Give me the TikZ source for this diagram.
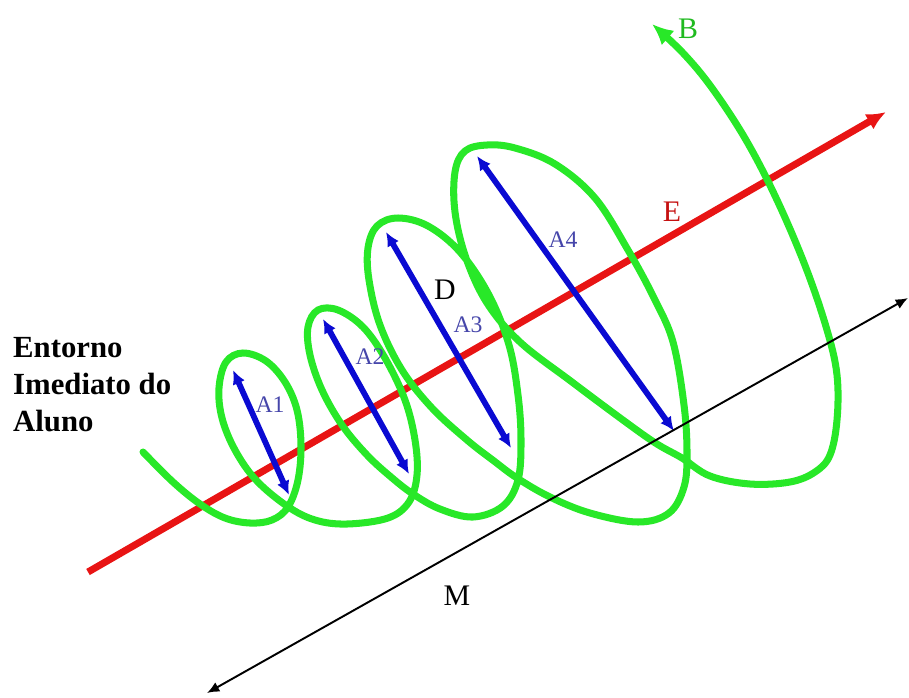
\documentclass[tikz,border=0pt]{standalone}
\usepackage{fontspec}
\setmainfont{Liberation Serif}
\usetikzlibrary{arrows.meta}
\definecolor{espiral}{RGB}{40,232,40}
\definecolor{eixo}{RGB}{232,20,20}
\definecolor{azul}{RGB}{10,10,210}
\definecolor{rotulo}{RGB}{70,70,170}

\begin{document}
\begin{tikzpicture}[x=0.02cm, y=-0.02cm,
    eixoE/.style={eixo, line width=4pt, -{Latex[length=11pt,width=10pt]}},
    eixoM/.style={black, line width=1.1pt, {Latex[length=7pt,width=6pt]}-{Latex[length=7pt,width=6pt]}},
    amplitude/.style={azul, line width=3.3pt, {Latex[length=8pt,width=7.5pt]}-{Latex[length=8pt,width=7.5pt]}},
    rotuloA/.style={rotulo, font=\fontsize{13.5}{15}\selectfont},
    rotuloG/.style={font=\fontsize{17}{20}\selectfont}]
    \useasboundingbox (0,0) rectangle (909,697);

    % Eixo E
    \coordinate (E0) at (88,572);
    \coordinate (E1) at (886,112);
    \draw[eixoE] (E0) -- (E1);

    % Espiral B
    \draw[espiral, line width=4pt, line cap=round, -{Latex[length=12pt,width=11pt]}]
        plot[smooth, tension=0.6] coordinates {
        (143,452) (173,482) (200,504) (225,518) (250,523) (272,520) (288,507)
        (298,480) (301,445) (297,410) (285,382) (266,361) (243,353) (226,362)
        (219,388) (222,418) (235,450) (256,480) (287,506) (315,520) (347,524)
        (388,518) (409,502) (417,475) (415,440) (405,400) (385,358) (363,327)
        (338,310) (318,310) (308,327) (310,355) (322,390) (342,425) (367,455)
        (391,477) (413,494) (440,509) (473,517) (503,506) (518,480) (521,440)
        (518,395) (509,345) (489,295) (460,252) (428,226) (398,218) (377,226)
        (368,248) (369,280) (380,325) (402,370) (432,408) (467,440) (494,461)
        (517,478) (550,497) (590,513) (638,522) (669,513) (684,487) (687,453)
        (684,405) (673,342) (654,298) (628,250) (595,198) (555,164) (515,148)
        (487,145) (465,151) (455,172) (455,212) (466,258) (487,303) (520,342)
        (572,382) (627,423) (657,444) (682,458) (710,476) (750,484) (790,482)
        (815,472) (830,455) (837,420) (837,375) (827,330) (806,268) (777,200)
        (746,140) (712,88) (683,53) (652,24)};

    % Amplitudes A1 ... A4
    \coordinate (A1a) at (233,370); \coordinate (A1b) at (289,495);
    \coordinate (A2a) at (323,319); \coordinate (A2b) at (409,474);
    \coordinate (A3a) at (386,232); \coordinate (A3b) at (511,448);
    \coordinate (A4a) at (477,156); \coordinate (A4b) at (674,431);
    \foreach \i in {1,...,4}
        \draw[amplitude] (A\i a) -- (A\i b);

    % Eixo M
    \coordinate (M0) at (908,298);
    \coordinate (M1) at (207,693);
    \draw[eixoM] (M0) -- (M1);

    % Rotulos
    \node[rotuloA] (lA1) at (270,405) {A1};
    \node[rotuloA] (lA2) at (370,357) {A2};
    \node[rotuloA] (lA3) at (468,325) {A3};
    \node[rotuloA] (lA4) at (563,240) {A4};
    \node[rotuloG] (lD) at (445,290) {D};
    \node[rotuloG, eixo!85!black] (lE) at (672,212) {E};
    \node[rotuloG] (lM) at (457,596) {M};
    \node[rotuloG, espiral!80!black] (lB) at (688,29) {B};
    \node[rotuloG, anchor=west, align=left, font=\bfseries\fontsize{17.5}{21}\selectfont]
        (aluno) at (7,385) {Entorno\\Imediato do\\Aluno};
\end{tikzpicture}
\end{document}
